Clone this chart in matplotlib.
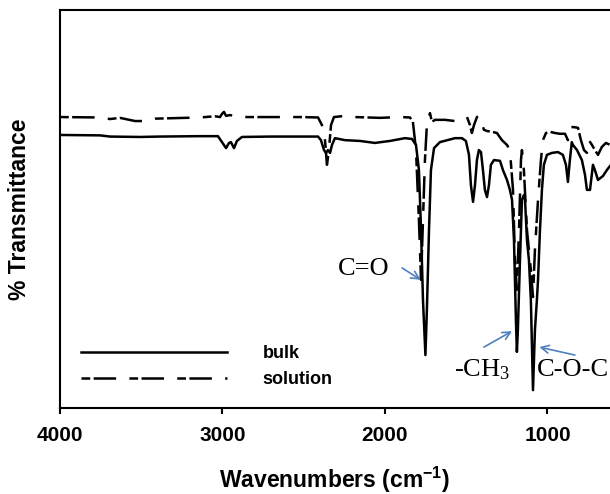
import matplotlib
matplotlib.use("Agg")
import matplotlib.pyplot as plt

plt.rcParams['font.family'] = ['Liberation Sans', 'DejaVu Sans']
plt.rcParams['mathtext.default'] = 'regular'

# ---- data ----
bulk_wn = [4000, 3754, 3692, 3508, 3385, 3138, 3028, 3003, 2978, 2960, 2948, 2929, 2911, 2880,
           2708, 2523, 2412, 2394, 2375, 2363, 2351, 2338, 2326, 2308, 2246, 2154, 2062, 1969,
           1877, 1834, 1809, 1791, 1778, 1766, 1751, 1742, 1729, 1717, 1698, 1662, 1569, 1526,
           1502, 1483, 1471, 1458, 1446, 1434, 1422, 1409, 1397, 1385, 1372, 1360, 1348, 1329,
           1292, 1274, 1249, 1231, 1218, 1206, 1194, 1188, 1182, 1169, 1157, 1145, 1138, 1126,
           1114, 1102, 1089, 1077, 1065, 1058, 1046, 1034, 1022, 1003, 972, 935, 905, 886, 874,
           862, 850, 843, 818, 788, 769, 757, 738, 720, 708, 689, 658, 634, 615]
bulk_T = [68.6, 68.5, 68.2, 68.1, 68.2, 68.3, 68.3, 66.8, 65.3, 66.6, 66.8, 65.3, 67.1, 68.1,
          68.2, 68.2, 68.2, 67.3, 64.8, 64.1, 64.8, 64.1, 66.1, 67.8, 67.3, 67.1, 66.6, 67.1,
          67.8, 67.6, 66.1, 59.8, 44.7, 27.1, 13.3, 24.6, 44.7, 59.8, 65.3, 66.8, 67.8, 67.8,
          67.1, 63.6, 56.0, 51.8, 56.0, 62.3, 64.8, 64.3, 59.8, 54.8, 53.0, 56.0, 61.1, 62.3,
          62.1, 59.8, 57.3, 54.8, 52.3, 42.2, 22.1, 14.1, 19.6, 37.2, 52.3, 53.5, 52.3, 42.2,
          37.2, 27.1, 4.5, 19.6, 27.1, 32.2, 44.7, 54.8, 61.1, 63.6, 64.1, 64.3, 63.6, 61.1, 56.8,
          62.3, 66.8, 66.1, 64.8, 62.3, 58.6, 54.8, 54.8, 61.1, 59.8, 57.3, 58.3, 59.8, 60.8]

sol_wn = [4000, 3754, 3692, 3631, 3538, 3477, 3415, 3138, 3046, 3015, 3003, 2991, 2978, 2954,
          2892, 2523, 2412, 2388, 2369, 2357, 2345, 2332, 2314, 2246, 2185, 2031, 1908, 1846,
          1828, 1809, 1791, 1778, 1766, 1754, 1742, 1723, 1711, 1692, 1631, 1569, 1508, 1495,
          1477, 1465, 1452, 1434, 1422, 1409, 1391, 1372, 1342, 1311, 1280, 1249, 1231, 1212,
          1200, 1188, 1175, 1163, 1157, 1145, 1126, 1102, 1089, 1077, 1058, 1040, 1028, 1009,
          985, 954, 923, 892, 874, 862, 843, 812, 794, 775, 757, 745, 726, 708, 689, 665, 640, 615]
sol_T = [73.1, 73.0, 72.6, 72.9, 72.1, 72.1, 72.7, 73.0, 73.3, 73.1, 73.9, 74.4, 73.4, 73.6,
         73.1, 73.1, 73.0, 71.1, 67.3, 61.1, 64.8, 71.1, 73.1, 73.4, 73.1, 72.9, 73.1, 73.0,
         71.9, 64.8, 47.2, 32.2, 47.2, 62.3, 71.1, 74.1, 71.9, 72.4, 72.4, 72.1, 73.0, 73.1,
         71.1, 69.1, 71.1, 73.1, 73.4, 72.4, 69.9, 69.6, 69.4, 69.1, 67.3, 66.1, 64.8, 54.8,
         37.2, 29.7, 44.7, 62.3, 64.8, 59.8, 44.7, 34.7, 27.9, 39.7, 52.3, 62.3, 67.3, 69.1,
         69.4, 69.1, 68.9, 68.9, 67.3, 70.4, 70.6, 70.4, 67.3, 64.8, 64.1, 67.3, 66.1, 64.8,
         63.6, 65.6, 66.6, 66.1]

series_labels = ["bulk", "solution"]
x_ticks = [4000, 3000, 2000, 1000]

# annotations: (text, text position, horizontal alignment)
ann_texts = ["C=O", "-CH$_3$", "C-O-C"]
ann_pos = [(2129, 35.0), (1400, 9.6), (1062, 9.6)]
ann_ha = ['center', 'center', 'left']
arrow_tails = [(1895, 35.2), (1391, 15.3), (831, 13.3)]
arrow_tips = [(1780, 32.2), (1218, 19.3), (1050, 15.3)]

# ---- figure ----
fig = plt.figure(figsize=(6.10, 4.94), dpi=100)
ax = fig.add_axes([60 / 610, 86 / 494, 550 / 610, 398 / 494])

lw = 1.8
ax.plot(bulk_wn, bulk_T, color='black', lw=lw, solid_joinstyle='round', label=series_labels[0])
ax.plot(sol_wn, sol_T, color='black', lw=lw, dashes=(3.5, 1.35, 9.0, 5.3), label=series_labels[1])

ax.set_xlim(4000, 615)
ax.set_ylim(0, 100)
ax.set_xticks(x_ticks)
ax.set_xticklabels([str(t) for t in x_ticks])
ax.set_yticks([])

for s in ['left', 'bottom', 'top']:
    ax.spines[s].set_linewidth(1.5)
ax.spines['right'].set_visible(False)
ax.tick_params(axis='x', direction='out', length=4, width=1.5, pad=9,
               labelsize=15)
for lab in ax.get_xticklabels():
    lab.set_fontweight('bold')

ax.set_xlabel("Wavenumbers (cm$^{-1}$)", fontsize=16.5, fontweight='bold', labelpad=14)
ax.set_ylabel("% Transmittance", fontsize=16.5, fontweight='bold', labelpad=21)

leg = ax.legend(loc='upper left', bbox_to_anchor=(0.038, 0.158), frameon=False,
                fontsize=13, handlelength=8.1, handletextpad=1.95,
                labelspacing=0.5, borderpad=0, borderaxespad=0)
for t in leg.get_texts():
    t.set_fontweight('bold')

arrow_color = '#4F81BD'
for txt, pos, ha, tail, tip in zip(ann_texts, ann_pos, ann_ha, arrow_tails, arrow_tips):
    ax.text(pos[0], pos[1], txt, fontsize=19, family=['Liberation Serif', 'DejaVu Serif'],
            ha=ha, va='center', clip_on=False)
    ax.annotate("", xy=tip, xytext=tail,
                arrowprops=dict(arrowstyle='->', color=arrow_color, lw=1.2,
                                mutation_scale=14, shrinkA=0, shrinkB=0))

fig.savefig("out.png", dpi=100)
